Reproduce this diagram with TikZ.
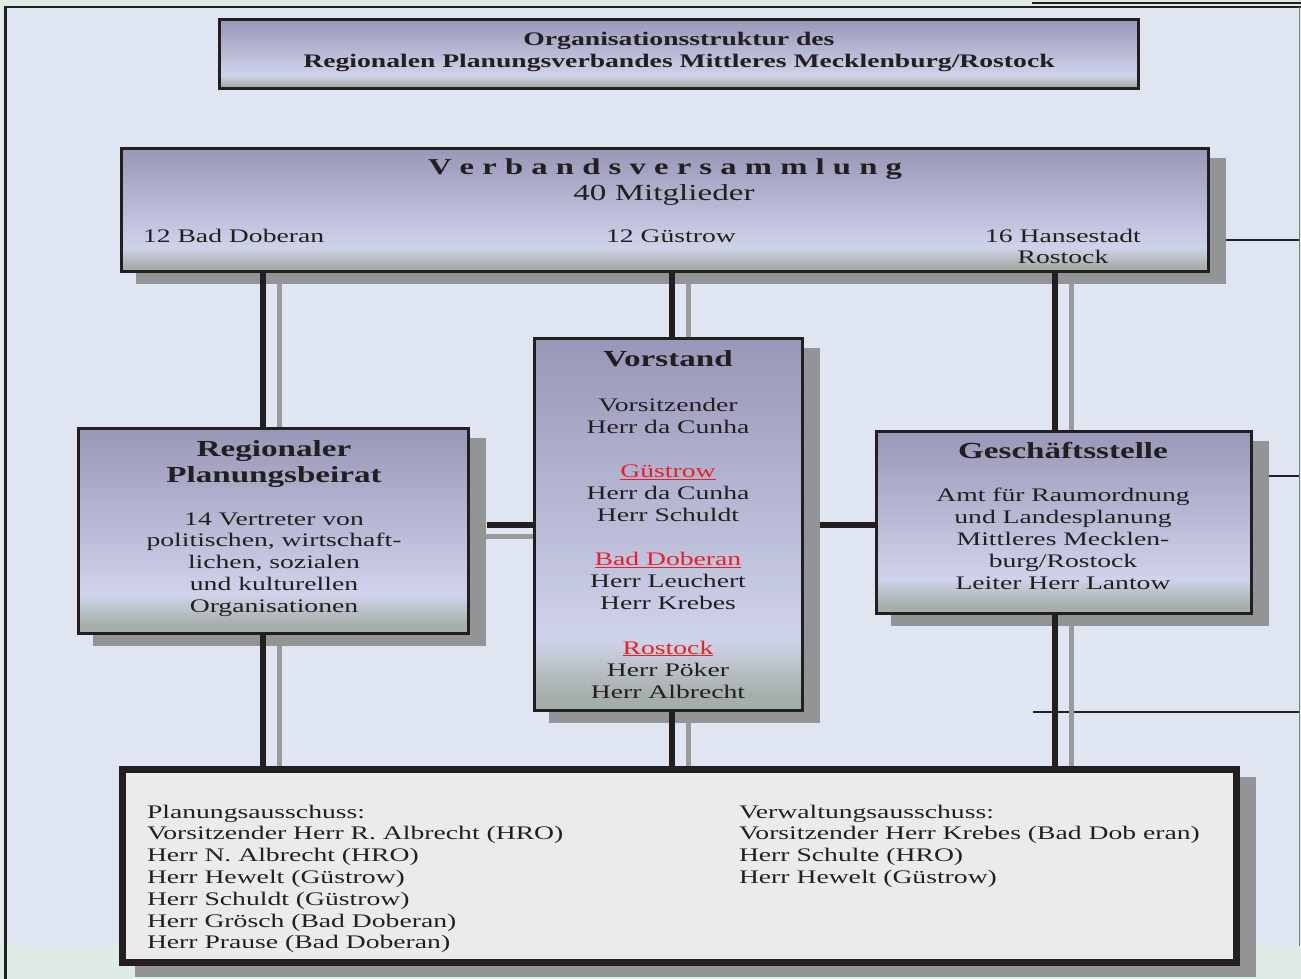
\documentclass[tikz,border=0pt]{standalone}
\usepackage{fontspec}
\setmainfont{Liberation Serif}[FakeStretch=1.44]
\usetikzlibrary{calc}
\pgfdeclarelayer{bg}
\pgfdeclarelayer{glines}
\pgfdeclarelayer{shad}
\pgfdeclarelayer{conn}
\pgfsetlayers{bg,glines,shad,conn,main}
\definecolor{bgblue}{HTML}{DFE5F1}
\definecolor{bggreen}{HTML}{DFEBE6}
\definecolor{framec}{HTML}{231F20}
\definecolor{boxtop}{HTML}{9897B7}
\definecolor{boxlight}{HTML}{CFD3EA}
\definecolor{boxmid}{HTML}{B9C0C6}
\definecolor{boxgreen}{HTML}{A5AFA9}
\definecolor{shadowgray}{HTML}{939496}
\definecolor{linegray}{HTML}{9A9B9D}
\definecolor{panelc}{HTML}{EBEBEE}
\definecolor{redlink}{HTML}{E8202A}
\pgfdeclareverticalshading{boxshade}{100bp}{color(0bp)=(boxgreen); color(25bp)=(boxgreen); color(27bp)=(boxgreen); color(30.5bp)=(boxmid); color(34.5bp)=(boxlight); color(75bp)=(boxtop); color(100bp)=(boxtop)}
\newcommand\myfirststrut{\rule{0pt}{14pt}}
\newcommand\redhead[1]{\textcolor{redlink}{\underline{#1}}}
\begin{document}
\begin{tikzpicture}[x=1pt,y=-1pt,
  orgbox/.style={draw=framec, line width=3pt, outer sep=1.5pt, inner sep=0pt, shading=boxshade},
  panelbox/.style={draw=framec, line width=7.5pt, outer sep=3.75pt, inner sep=0pt, fill=panelc},
  txt/.style={inner sep=0pt, outer sep=0pt, text=framec, font=\fontsize{19.2}{22.1}\selectfont},
  btxt/.style={inner sep=0pt, outer sep=0pt, text=framec, font=\fontsize{23}{26}\selectfont\bfseries},
  bline/.style={draw=framec, line width=6pt},
  gline/.style={draw=linegray, line width=5pt},
  shadowfill/.style={fill=shadowgray},
  deco/.style={draw=framec, line width=1.5pt}
]
\useasboundingbox (0,0) rectangle (1301,979);

% boxes
\node[orgbox, minimum width=919pt, minimum height=69pt] (ttl) at (679,54) {};
\node[orgbox, minimum width=1087pt, minimum height=123pt] (vv) at (665,210) {};
\node[orgbox, minimum width=390pt, minimum height=205pt] (reg) at (273.5,531) {};
\node[orgbox, minimum width=268pt, minimum height=372pt] (vor) at (668.5,524.5) {};
\node[orgbox, minimum width=375pt, minimum height=182pt] (ges) at (1064,522.5) {};
\node[panelbox, minimum width=1114pt, minimum height=193pt] (pan) at (679.5,866) {};

% texts
\node[txt, anchor=north, align=center, font=\fontsize{19.2}{22}\selectfont\bfseries] (ttltxt) at (679,32)
  {\myfirststrut Organisationsstruktur des\\Regionalen Planungsverbandes Mittleres Mecklenburg/Rostock};

\node[txt, anchor=base, font=\fontsize{22.7}{26}\selectfont\bfseries] (vvtitle) at (665,175)
  {V e r b a n d s v e r s a m m l u n g};
\node[txt, anchor=base, font=\fontsize{23}{26}\selectfont] (vvcount) at (664,200) {40 Mitglieder};
\node[txt, anchor=base west] (vvbd) at (143,242) {12 Bad Doberan};
\node[txt, anchor=base] (vvgu) at (671,242) {12 Güstrow};
\node[txt, anchor=north, align=center, font=\fontsize{19.2}{21.5}\selectfont] (vvro) at (1063,228)
  {\myfirststrut 16 Hansestadt\\Rostock};

\node[btxt, anchor=north, align=center] (regtitle) at (274,441)
  {\rule{0pt}{15pt}Regionaler\\Planungsbeirat};
\node[txt, anchor=north, align=center, font=\fontsize{19.2}{21.8}\selectfont] (regtxt) at (274,511)
  {\myfirststrut 14 Vertreter von\\politischen, wirtschaft-\\lichen, sozialen\\und kulturellen\\Organisationen};

\node[btxt, anchor=base] (vortitle) at (668,366) {Vorstand};
\node[txt, anchor=north, align=center] (vortxt) at (668,397)
  {\myfirststrut Vorsitzender\\Herr da Cunha\\[22.1pt]
   \redhead{Güstrow}\\Herr da Cunha\\Herr Schuldt\\[22.1pt]
   \redhead{Bad Doberan}\\Herr Leuchert\\Herr Krebes\\[22.1pt]
   \redhead{Rostock}\\Herr Pöker\\Herr Albrecht};

\node[btxt, anchor=base] (gestitle) at (1063,458) {Geschäftsstelle};
\node[txt, anchor=north, align=center, font=\fontsize{19.2}{22}\selectfont] (gestxt) at (1063,487)
  {\myfirststrut Amt für Raumordnung\\und Landesplanung\\Mittleres Mecklen-\\burg/Rostock\\Leiter Herr Lantow};

\node[txt, anchor=north west, align=left, font=\fontsize{19.2}{21.8}\selectfont] (pantxtl) at (147,804)
  {\myfirststrut Planungsausschuss:\\Vorsitzender Herr R. Albrecht (HRO)\\Herr N. Albrecht (HRO)\\Herr Hewelt (Güstrow)\\Herr Schuldt (Güstrow)\\Herr Grösch (Bad Doberan)\\Herr Prause (Bad Doberan)};
\node[txt, anchor=north west, align=left, font=\fontsize{19.2}{21.8}\selectfont] (pantxtr) at (739,804)
  {\myfirststrut Verwaltungsausschuss:\\Vorsitzender Herr Krebes (Bad Dob eran)\\Herr Schulte (HRO)\\Herr Hewelt (Güstrow)};

% background
\begin{pgfonlayer}{bg}
  \fill[bggreen] (0,0) rectangle (1301,979);
  \fill[bgblue] (6,8) rectangle (1299,946);
  \draw[framec, line width=2.5pt] (5.5,979) -- (5.5,7) -- (1301,7);
  \draw[deco] (1032,3) -- (1301,3);
  \draw[draw=gray, line width=1pt] (1299.5,7) -- (1299.5,946);
  \draw[deco] (1226,240) -- (1299,240);
  \draw[deco] (1269,476) -- (1299,476);
  \draw[deco] (1033,712) -- (1299,712);
\end{pgfonlayer}

% shadows
\begin{pgfonlayer}{shad}
  \foreach \n in {vv,reg,vor,ges,pan}
    \fill[shadowfill] ([shift={(16,11)}]\n.north west) rectangle ([shift={(16,11)}]\n.south east);
\end{pgfonlayer}

% gray shadow connectors
\begin{pgfonlayer}{glines}
  \draw[gline] ($(reg.north |- vv.south)+(5.5,0)$) -- ($(reg.north)+(5.5,0)$);
  \draw[gline] ($(reg.south)+(5.5,0)$) -- ($(reg.south |- pan.north)+(5.5,0)$);
  \draw[gline] ($(vor.north |- vv.south)+(19.5,0)$) -- ($(vor.north)+(19.5,0)$);
  \draw[gline] ($(vor.south)+(19.5,0)$) -- ($(vor.south |- pan.north)+(19.5,0)$);
  \draw[gline] ($(ges.north |- vv.south)+(7,0)$) -- ($(ges.north)+(7,0)$);
  \draw[gline] ($(ges.south)+(7,0)$) -- ($(ges.south |- pan.north)+(7,0)$);
  \draw[gline] ($(vor.west -| reg.east)+(0,11.5)$) -- ($(vor.west)+(0,11.5)$);
\end{pgfonlayer}

% black connectors
\begin{pgfonlayer}{conn}
  \draw[bline] ($(vv.south -| reg.north)+(-10.5,0)$) -- ($(reg.north)+(-10.5,0)$);
  \draw[bline] ($(reg.south)+(-10.5,0)$) -- ($(reg.south |- pan.north)+(-10.5,0)$);
  \draw[bline] ($(vv.south -| vor.north)+(3.5,0)$) -- ($(vor.north)+(3.5,0)$);
  \draw[bline] ($(vor.south)+(3.5,0)$) -- ($(vor.south |- pan.north)+(3.5,0)$);
  \draw[bline] ($(vv.south -| ges.north)+(-9,0)$) -- ($(ges.north)+(-9,0)$);
  \draw[bline] ($(ges.south)+(-9,0)$) -- ($(ges.south |- pan.north)+(-9,0)$);
  \draw[bline] ($(reg.east |- vor.west)+(17,0)$) -- (vor.west);
  \draw[bline] ($(vor.east)+(16,0)$) -- (vor.east -| ges.west);
\end{pgfonlayer}
\end{tikzpicture}
\end{document}
